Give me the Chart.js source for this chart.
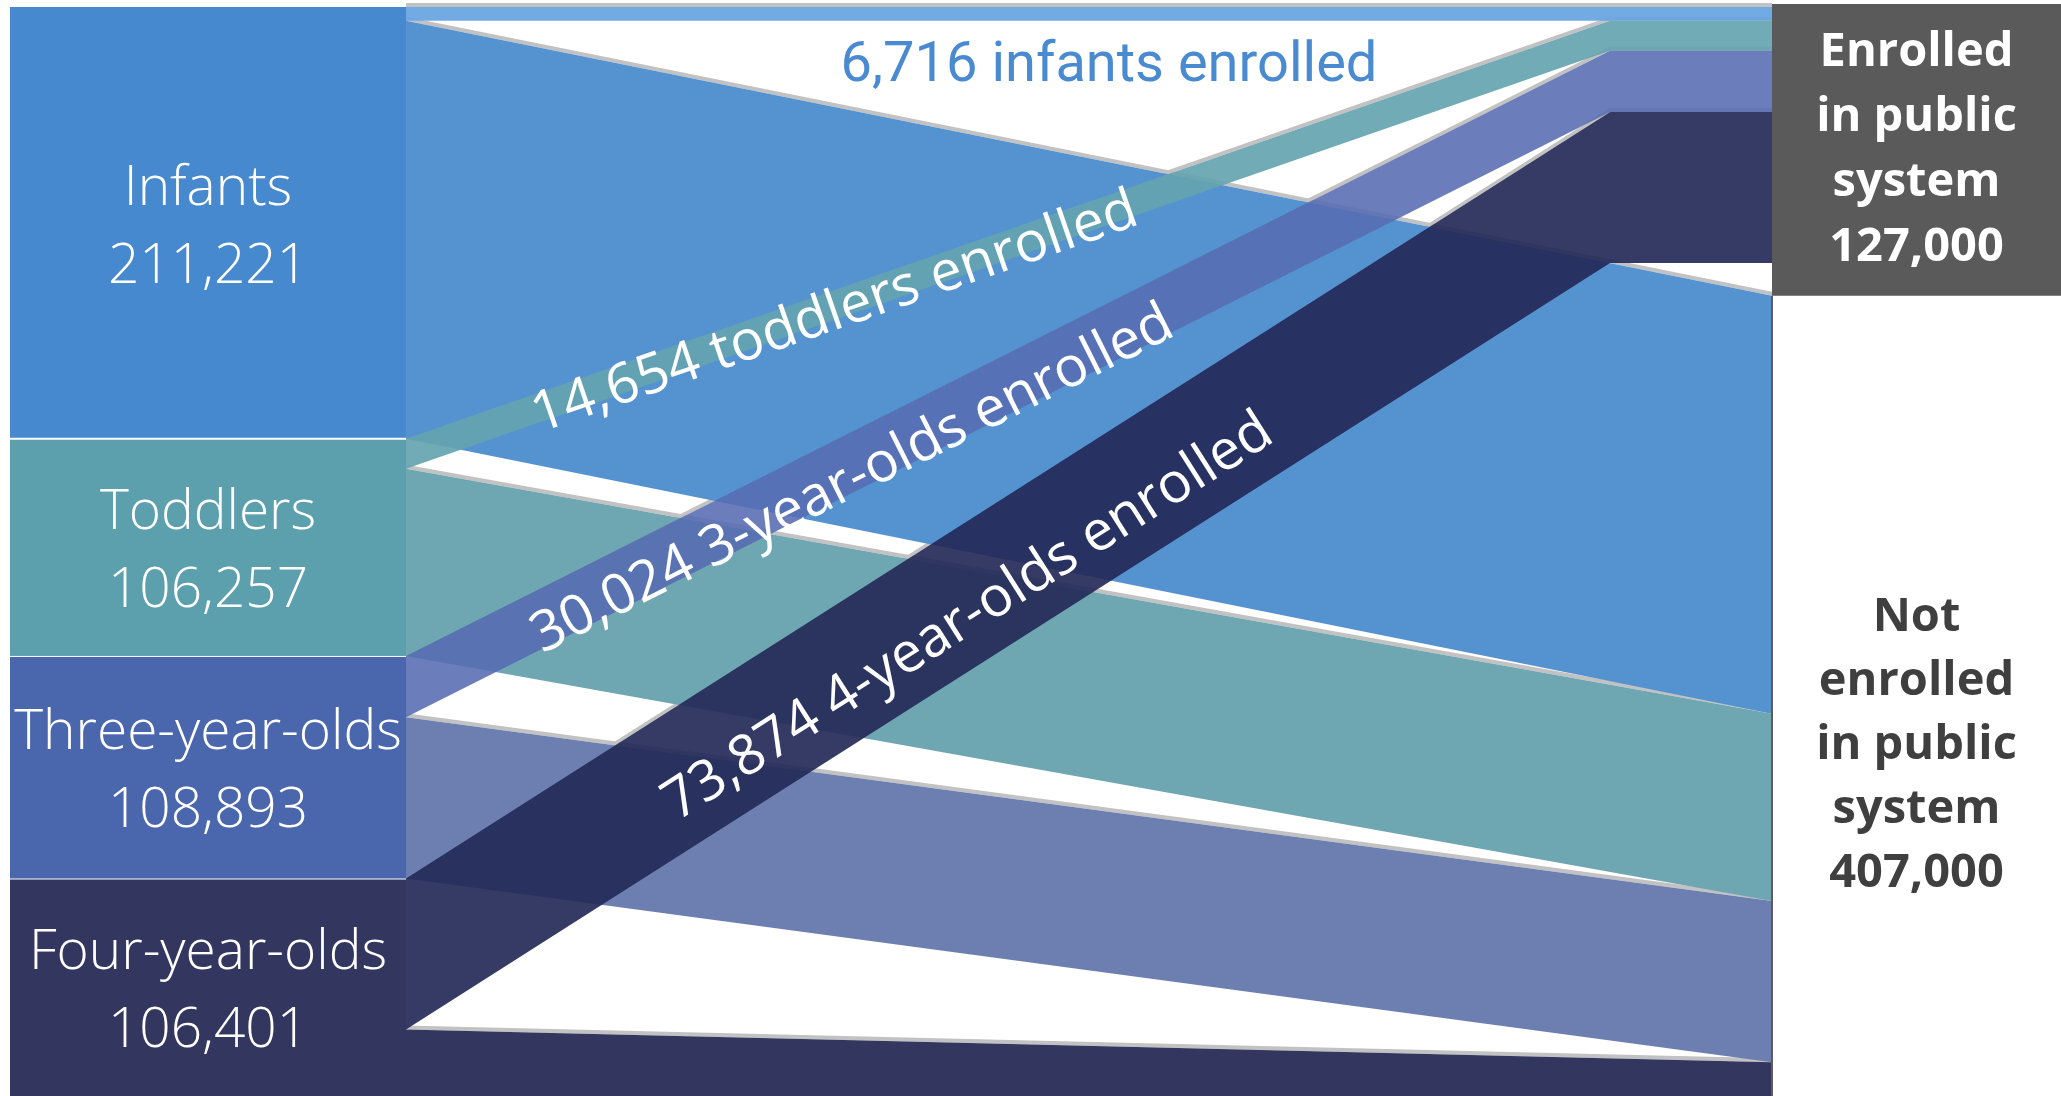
<!DOCTYPE html>
<html>
<head>
  <title>Enrollment in the public system by age group</title>
  <script src="https://cdn.jsdelivr.net/npm/chart.js"></script>
  <style>
    html, body { margin: 0; padding: 0; background: #fff; }
    canvas { display: block; }
  </style>
</head>
<body>
  <canvas id="flowChart" width="2061" height="1096"></canvas>
  <script>
    // Age groups (left column)
    const GROUPS = ['Infants', 'Toddlers', 'Three-year-olds', 'Four-year-olds'];
    const GROUP_NOUNS = ['infants', 'toddlers', '3-year-olds', '4-year-olds'];
    const GROUP_TOTALS = [211221, 106257, 108893, 106401];
    // How each group splits between the two outcomes
    const ENROLLED = [6716, 14654, 30024, 73874];
    const NOT_ENROLLED = [204505, 91603, 78869, 32527];
    // Outcomes (right column), rounded totals
    const OUTCOME_LINES = [['Enrolled', 'in public', 'system'], ['Not', 'enrolled', 'in public', 'system']];
    const OUTCOME_TOTALS = [127000, 407000];

    const NODE_COLORS = ['#4689cf', '#5ba0ac', '#4a67ae', '#33365e'];
    const FLOW_COLORS = ['#5592d0', '#6ea7b2', '#6d7fb1', '#33365e'];
    const ENROLLED_COLORS = ['rgba(106,166,226,0.95)', 'rgba(100,164,176,0.92)', 'rgba(86,108,178,0.88)', 'rgba(36,42,88,0.92)'];

    const fmt = n => n.toLocaleString('en-US');
    const sum = a => a.reduce((s, v) => s + v, 0);

    const LEFT_TOTAL = sum(GROUP_TOTALS);
    const NODE_GAP = 16000;   // space between the two outcome stacks, in people

    function trace(ctx, pts) {
      ctx.moveTo(pts[0][0], pts[0][1]);
      for (let i = 1; i < pts.length; i++) ctx.lineTo(pts[i][0], pts[i][1]);
      ctx.closePath();
    }

    // ribbon from a left segment to a right segment, optionally levelling off at xb
    function ribbon(x0, a0, a1, xb, x1, b0, b1) {
      return [[x0, a0], [xb, b0], [x1, b0], [x1, b1], [xb, b1], [x0, a1]];
    }

    function drawShadow(ctx, pts, w, h) {
      ctx.save();
      ctx.beginPath();
      ctx.rect(0, 0, w, h);
      trace(ctx, pts);
      ctx.clip('evenodd');
      ctx.translate(0, -4);
      ctx.beginPath();
      trace(ctx, pts);
      ctx.fillStyle = '#c2c2c2';
      ctx.fill();
      ctx.restore();
    }

    const sankeyPlugin = {
      id: 'sankeyFlows',
      afterDatasetsDraw(chart, args, o) {
        const ctx = chart.ctx;
        const sx = chart.scales.x, sy = chart.scales.y;
        const X = v => sx.getPixelForValue(v);
        const Y = v => sy.getPixelForValue(v);
        const W = chart.width, H = chart.height;

        const xl0 = X(o.leftX0), xl1 = X(o.leftX1), xb = X(o.bendX), xr = X(o.rightX), xe = X(o.rightX1);

        // stacked positions
        const leftStart = [];
        let acc = 0;
        GROUP_TOTALS.forEach(v => { leftStart.push(acc); acc += v; });
        const enrStart = [];
        acc = 0;
        ENROLLED.forEach(v => { enrStart.push(acc); acc += v; });
        const notTop = sum(ENROLLED) + NODE_GAP;
        const notStart = [];
        acc = notTop;
        NOT_ENROLLED.forEach(v => { notStart.push(acc); acc += v; });
        const notBottom = acc;

        const enrolledBands = GROUPS.map((g, i) => {
          const a0 = Y(leftStart[i]), a1 = Y(leftStart[i] + ENROLLED[i]);
          const b0 = Y(enrStart[i]), b1 = Y(enrStart[i] + ENROLLED[i]);
          return ribbon(xl1, a0, a1, i === 0 ? xr : xb, xr, b0, b1);
        });
        const notBands = GROUPS.map((g, i) => {
          const a0 = Y(leftStart[i] + ENROLLED[i]), a1 = Y(leftStart[i] + GROUP_TOTALS[i]);
          const b0 = Y(notStart[i]), b1 = Y(notStart[i] + NOT_ENROLLED[i]);
          return ribbon(xl1, a0, a1, xr, xr, b0, b1);
        });

        ctx.save();
        notBands.concat(enrolledBands).forEach(p => drawShadow(ctx, p, W, H));
        notBands.forEach((p, i) => {
          ctx.beginPath(); trace(ctx, p);
          ctx.fillStyle = FLOW_COLORS[i]; ctx.fill();
        });
        enrolledBands.forEach((p, i) => {
          ctx.beginPath(); trace(ctx, p);
          ctx.fillStyle = ENROLLED_COLORS[i]; ctx.fill();
        });

        ctx.textAlign = 'center';
        ctx.textBaseline = 'middle';

        // left nodes
        GROUPS.forEach((g, i) => {
          const t = Y(leftStart[i]), b = Y(leftStart[i] + GROUP_TOTALS[i]);
          ctx.fillStyle = NODE_COLORS[i];
          ctx.fillRect(xl0, t + (i ? 1 : 0), xl1 - xl0, b - t - 1);
          const cx = (xl0 + xl1) / 2, cy = (t + b) / 2 + 5;
          ctx.fillStyle = '#fff';
          ctx.font = '300 55px "Open Sans"';
          ctx.fillText(g, cx, cy - 39);
          ctx.fillText(fmt(GROUP_TOTALS[i]), cx, cy + 39);
        });

        // right: enrolled box and the open not-enrolled column
        const boxTop = Y(0) - 3, boxBottom = Y(notTop);
        ctx.fillStyle = '#5a5a5a';
        ctx.fillRect(xr, boxTop, xe - xr, boxBottom - boxTop);
        ctx.strokeStyle = '#5c5c5c';
        ctx.lineWidth = 2;
        ctx.beginPath();
        ctx.moveTo(xr, boxBottom); ctx.lineTo(xr, H);
        ctx.stroke();

        ctx.font = '700 47px "Open Sans"';
        const rcx = (xr + xe) / 2;
        const enrLines = OUTCOME_LINES[0].concat(fmt(OUTCOME_TOTALS[0]));
        let cy = (boxTop + boxBottom) / 2;
        ctx.fillStyle = '#fff';
        enrLines.forEach((s, k) => ctx.fillText(s, rcx, cy + (k - (enrLines.length - 1) / 2) * 65));
        const notLines = OUTCOME_LINES[1].concat(fmt(OUTCOME_TOTALS[1]));
        cy = (boxBottom + Math.min(H, Y(notBottom))) / 2 + 50;
        ctx.fillStyle = '#3f3f3f';
        notLines.forEach((s, k) => ctx.fillText(s, rcx, cy + (k - (notLines.length - 1) / 2) * 64));

        // flow labels
        GROUPS.forEach((g, i) => {
          const text = fmt(ENROLLED[i]) + ' ' + GROUP_NOUNS[i] + ' enrolled';
          if (i === 0) {
            ctx.fillStyle = '#4a8ad0';
            ctx.font = '400 56px "Roboto"';
            ctx.fillText(text, (xl1 + xr) / 2 + 20, Y(ENROLLED[0]) + 46);
            return;
          }
          const la = (Y(leftStart[i]) + Y(leftStart[i] + ENROLLED[i])) / 2;
          const lb = (Y(enrStart[i]) + Y(enrStart[i] + ENROLLED[i])) / 2;
          const t = o.labelAt[i];
          const px = xl1 + (xb - xl1) * t, py = la + (lb - la) * t;
          ctx.save();
          ctx.translate(px, py);
          ctx.rotate(Math.atan2(lb - la, xb - xl1));
          ctx.fillStyle = '#fff';
          ctx.font = '400 56px "Open Sans"';
          ctx.fillText(text, 0, o.labelDy[i]);
          ctx.restore();
        });
        ctx.restore();
      }
    };

    new Chart(document.getElementById('flowChart'), {
      type: 'scatter',
      data: { datasets: [] },
      options: {
        responsive: false,
        animation: false,
        layout: { padding: { top: 7, right: 0, bottom: 0, left: 0 } },
        plugins: {
          legend: { display: false },
          tooltip: { enabled: false },
          sankeyFlows: {
            leftX0: 10, leftX1: 406, bendX: 1610, rightX: 1772, rightX1: 2061,
            labelAt: [0, 0.354, 0.365, 0.459],
            labelDy: [0, 8, 16, 18]
          }
        },
        scales: {
          x: { type: 'linear', min: 0, max: 2061, display: false },
          y: { type: 'linear', min: 0, max: LEFT_TOTAL, reverse: true, display: false }
        }
      },
      plugins: [sankeyPlugin]
    });
  </script>
</body>
</html>
